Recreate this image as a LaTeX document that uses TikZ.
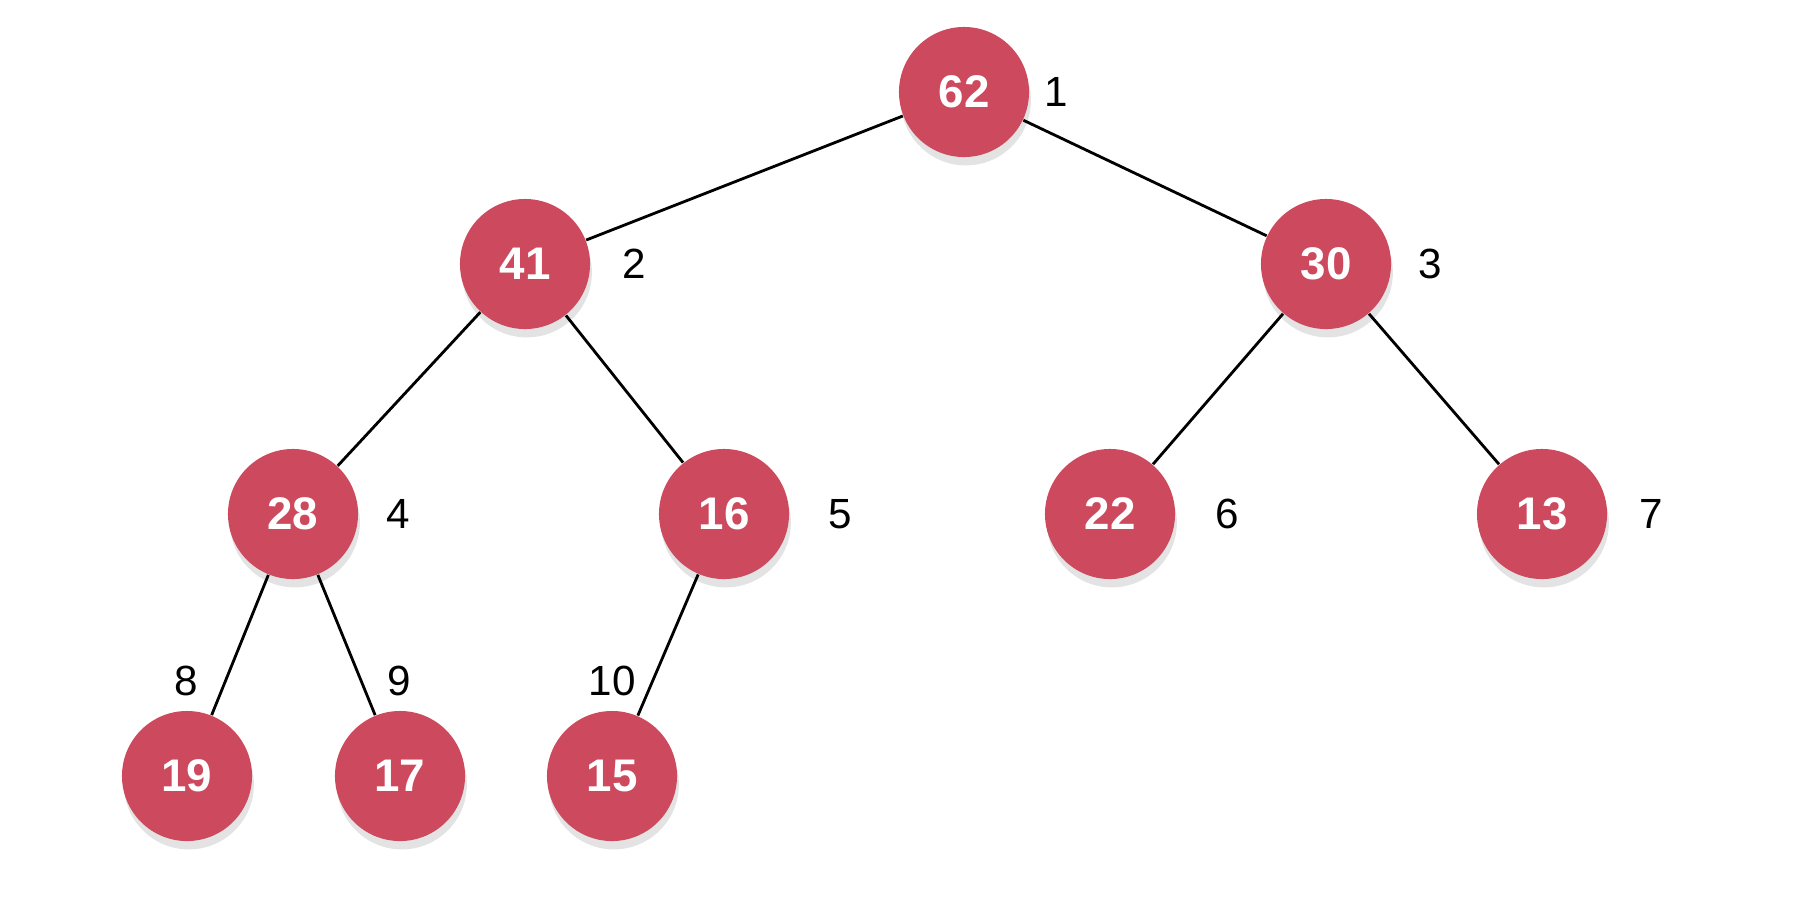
\documentclass[tikz,border=0pt]{standalone}
\usepackage{fontspec}
\setmainfont{Liberation Sans}
\usetikzlibrary{shadows}
\definecolor{heapred}{RGB}{205,74,94}
\tikzset{key/.style={circle,fill=heapred,minimum size=1.3cm,inner sep=0pt,text=white,
  font=\bfseries\fontsize{13}{15}\selectfont,drop shadow={opacity=0.22,shadow xshift=0.1ex,shadow yshift=-0.45ex}},
  idx/.style={font=\fontsize{12}{14}\selectfont},
  link/.style={line width=0.8pt}}

\begin{document}
\begin{tikzpicture}[x=0.01cm,y=-0.01cm]
\useasboundingbox (0,0) rectangle (1800,908);

\node[key] (n62) at (964,92) {62};
\node[key] (n41) at (525,264) {41};
\node[key] (n30) at (1326,264) {30};
\node[key] (n28) at (293,514) {28};
\node[key] (n16) at (724,514) {16};
\node[key] (n22) at (1110,514) {22};
\node[key] (n13) at (1542,514) {13};
\node[key] (n19) at (187,776) {19};
\node[key] (n17) at (400,776) {17};
\node[key] (n15) at (612,776) {15};

\node[idx] (i1) at (1056,92) {1};
\node[idx] (i2) at (634,264) {2};
\node[idx] (i3) at (1430,264) {3};
\node[idx] (i4) at (398,514) {4};
\node[idx] (i5) at (840,514) {5};
\node[idx] (i6) at (1227,514) {6};
\node[idx] (i7) at (1651,514) {7};
\node[idx] (i8) at (186,681) {8};
\node[idx] (i9) at (399,681) {9};
\node[idx] (i10) at (612,681) {10};

\begin{scope}[on background layer/.try]
\draw[link] (n62) -- (n41);
\draw[link] (n62) -- (n30);
\draw[link] (n41) -- (n28);
\draw[link] (n41) -- (n16);
\draw[link] (n30) -- (n22);
\draw[link] (n30) -- (n13);
\draw[link] (n28) -- (n19);
\draw[link] (n28) -- (n17);
\draw[link] (n16) -- (n15);
\end{scope}

\end{tikzpicture}
\end{document}
